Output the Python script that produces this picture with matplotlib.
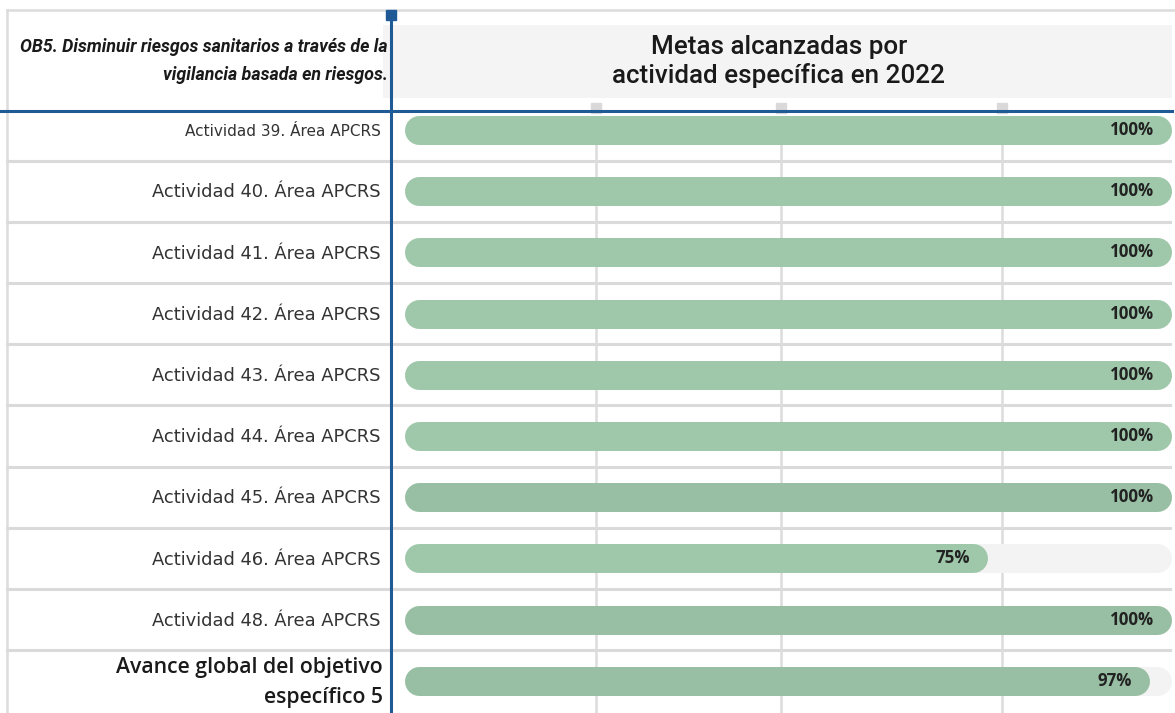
import matplotlib
matplotlib.use("Agg")
import matplotlib.pyplot as plt
from matplotlib.transforms import blended_transform_factory
from matplotlib.patches import Rectangle
from matplotlib.lines import Line2D

# ---- data ----
categories = [
    "Actividad 39. Área APCRS",
    "Actividad 40. Área APCRS",
    "Actividad 41. Área APCRS",
    "Actividad 42. Área APCRS",
    "Actividad 43. Área APCRS",
    "Actividad 44. Área APCRS",
    "Actividad 45. Área APCRS",
    "Actividad 46. Área APCRS",
    "Actividad 48. Área APCRS",
    "Avance global del objetivo\nespecífico 5",
]
values = [100, 100, 100, 100, 100, 100, 100, 75, 100, 97]
value_labels = ["100%", "100%", "100%", "100%", "100%", "100%", "100%", "75%", "100%", "97%"]
title_lines = ["Metas alcanzadas por", "actividad específica en 2022"]
objective_lines = ["OB5. Disminuir riesgos sanitarios a través de la",
                   "vigilancia basada en riesgos."]

W, H = 1175, 713
fig = plt.figure(figsize=(W / 100, H / 100), dpi=100)
fig.patch.set_facecolor("white")

def fx(px):
    return px / W

def fy(py):
    return 1 - py / H

# outer light border
fig.add_artist(Line2D([fx(7), fx(1175)], [fy(10), fy(10)], color="#dcdcdc", lw=1.8))
fig.add_artist(Line2D([fx(7), fx(7)], [fy(10), fy(713)], color="#dcdcdc", lw=1.8))

# header grey box
fig.add_artist(Rectangle((fx(383), fy(98)), fx(1172) - fx(383), fy(25) - fy(98),
                         facecolor="#f4f4f4", edgecolor="none", transform=fig.transFigure))
for py, t in zip([47, 76], title_lines):
    fig.text(fx(779), fy(py), t, ha="center", va="center", fontsize=18.7,
             family="Roboto", fontweight="medium", color="#1a1a1a")
for py, t in zip([47, 75], objective_lines):
    fig.text(fx(388), fy(py), t, ha="right", va="center", fontsize=12.8,
             family="Roboto", fontweight="bold", style="italic", color="#1a1a1a")

# bar axes
row0, step = 130, 61.2
ax_top_px = 98
ax = fig.add_axes([fx(391), 0, 1 - fx(391), fy(ax_top_px)])
ax.set_facecolor("none")
for s in ax.spines.values():
    s.set_visible(False)
ax.set_xticks([])
ax.set_yticks([])

x0_px, x100_px = 419, 1157
scale = (x100_px - x0_px) / 100.0
ax_w = W - 391
ax.set_xlim(-(x0_px - 391) / scale, (ax_w - (x0_px - 391)) / scale)
ax.set_ylim((H - row0) / step, -(row0 - ax_top_px) / step)

n = len(categories)
ys = list(range(n))

# vertical decorative gridlines with small squares on top
for gx in [24, 49, 79]:
    ax.plot([gx, gx], [ax.get_ylim()[0], -0.2], color="#dcdcdc", lw=1.8, zorder=1)
    ax.plot([gx], [-0.36], marker="s", ms=7, color="#d9d9d9", zorder=1, clip_on=False)

# row separators across full width
btr = blended_transform_factory(fig.transFigure, ax.transData)
for i in range(n - 1):
    ax.plot([fx(7), fx(1170)], [i + 0.5, i + 0.5], color="#dadada", lw=2.2,
            transform=btr, clip_on=False, zorder=0.5)

lw_pt = 29 * 72 / 100
bar_colors = ["#9fc8aa"] * n
bar_colors[6] = "#98bfa3"
bar_colors[8] = "#98bfa3"
bar_colors[9] = "#98bfa3"
for y, v, lab, c in zip(ys, values, value_labels, bar_colors):
    ax.plot([0, 100], [y, y], color="#f3f3f3", lw=lw_pt, solid_capstyle="round", zorder=2)
    ax.plot([0, v], [y, y], color=c, lw=lw_pt, solid_capstyle="round", zorder=3)
    ax.annotate(lab, xy=(v, y), xytext=(-2, 0), textcoords="offset points",
                ha="right", va="center", fontsize=12.2, family="Open Sans",
                fontweight="bold", color="#222222", zorder=4)

# category labels
for y, cat in zip(ys, categories):
    if y == n - 1:
        ax.text(fx(383), y + 0.03, cat, transform=btr, ha="right", va="center",
                fontsize=15.3, family="Open Sans", fontweight="semibold", color="#1a1a1a",
                linespacing=1.55)
    else:
        fs = 11.0 if y == 0 else 12.9
        ax.text(fx(381), y + 0.02, cat, transform=btr, ha="right", va="center",
                fontsize=fs, family="DejaVu Sans", color="#333333")

# blue axes lines
fig.add_artist(Line2D([fx(0), fx(1172)], [fy(111), fy(111)], color="#1f5a96", lw=2.2))
fig.add_artist(Line2D([fx(391), fx(391)], [fy(13), fy(713)], color="#1f5a96", lw=2.2))
fig.add_artist(Line2D([fx(391)], [fy(15)], marker="s", ms=7, color="#1f5a96"))

fig.savefig("out.png", dpi=100)
